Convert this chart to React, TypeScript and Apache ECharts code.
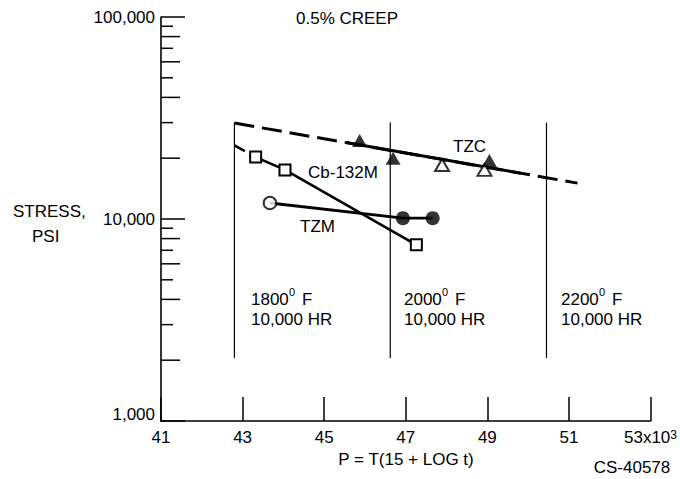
import React, { useEffect, useRef } from "react";
import * as echarts from "echarts";

// ---- data ----
const xTicks = [41, 43, 45, 47, 49, 51, 53];
const yMajorLabels: Record<number, string> = { 1000: "1,000", 10000: "10,000", 100000: "100,000" };
const minorTickMantissas = [2, 3, 4, 5, 6, 7, 8, 9];
const minorTickDecades = [1000, 10000];

const tzcFilled: [number, number][] = [[45.87, 24500], [46.69, 20000], [49.05, 19500]];
const tzcOpen: [number, number][] = [[47.89, 18500], [48.93, 17500]];
const tzcTrend: [number, number][] = [[42.8, 29850], [51.21, 15050]];
const tzcTrendSolid: [number, number][] = [[45.54, 23900], [49.82, 16850]];

const cbSquares: [number, number][] = [[43.32, 20250], [44.04, 17500], [47.26, 7450]];
const cbExtension: [number, number][] = [[42.8, 23150], [43.32, 20250]];

const tzmOpen: [number, number][] = [[43.67, 12000]];
const tzmFilled: [number, number][] = [[46.93, 10100], [47.66, 10100]];

const tempLineP = [42.8, 46.62, 50.45];
const tempLineSpan = [2050, 30000];
const tempLabels = [
  { t: "1800", unit: "F", hr: "10,000 HR" },
  { t: "2000", unit: "F", hr: "10,000 HR" },
  { t: "2200", unit: "F", hr: "10,000 HR" },
];

const FONT = "'Liberation Sans', Arial, sans-serif";
const FS = 17;

export default function App() {
  const ref = useRef<HTMLDivElement>(null);

  useEffect(() => {
    const chart = echarts.init(ref.current!, null, { renderer: "svg" });

    const minorTicks: number[] = [];
    minorTickDecades.forEach((d) => minorTickMantissas.forEach((m) => minorTicks.push(d * m)));

    const black = "#000";
    const txt = (text: string, x: number, y: number, extra: any = {}) => ({
      type: "text",
      x,
      y,
      silent: true,
      style: {
        text,
        fill: black,
        fontSize: FS,
        fontFamily: FONT,
        textAlign: "left",
        textVerticalAlign: "middle",
        ...extra,
      },
    });

    const tempLabelX = [251, 404, 561];
    const graphics: any[] = [
      txt("0.5% CREEP", 296, 18),
      txt("STRESS,", 13, 211),
      txt("PSI", 32, 236),
      txt("Cb-132M", 308, 172),
      txt("TZM", 300, 226),
      txt("TZC", 453, 146),
      txt("P = T(15 + LOG t)", 406, 459, { textAlign: "center" }),
      txt("CS-40578", 632, 467, { textAlign: "center" }),
    ];
    tempLabels.forEach((lab, i) => {
      const x0 = tempLabelX[i];
      graphics.push(txt(lab.t, x0, 299));
      graphics.push(txt("0", x0 + 38, 292, { fontSize: 11 }));
      graphics.push(txt(lab.unit, x0 + 51, 299));
      graphics.push(txt(lab.hr, x0, 319.5));
    });

    const series: any[] = [];

    // temperature / time reference lines
    tempLineP.forEach((p) => {
      series.push({
        type: "line",
        data: [[p, tempLineSpan[0]], [p, tempLineSpan[1]]],
        symbol: "none",
        lineStyle: { color: black, width: 1.2 },
        silent: true,
        z: 1,
      });
    });

    // minor log ticks on the stress axis
    series.push({
      type: "custom",
      data: minorTicks.map((v) => [41, v]),
      encode: { x: 0, y: 1 },
      clip: false,
      silent: true,
      renderItem: (params: any, api: any) => {
        const v = api.value(1);
        const p = api.coord([41, v]);
        const m = Math.round(v / Math.pow(10, Math.floor(Math.log10(v) + 1e-9)));
        const len = m % 2 === 0 ? 19 : 12;
        return {
          type: "line",
          shape: { x1: p[0], y1: p[1], x2: p[0] + len, y2: p[1] },
          style: { stroke: black, lineWidth: 1.5 },
        };
      },
    });

    // TZC trend line (dashed, solid in the data range)
    series.push({
      type: "line",
      data: tzcTrend,
      symbol: "none",
      lineStyle: { color: black, width: 3, type: [20, 8] },
      z: 2,
    });
    series.push({
      type: "line",
      data: tzcTrendSolid,
      symbol: "none",
      lineStyle: { color: black, width: 3 },
      z: 2,
    });

    // Cb-132M
    series.push({
      type: "line",
      data: cbExtension,
      symbol: "none",
      lineStyle: { color: black, width: 2.6, type: [12, 6] },
      z: 2,
    });
    series.push({
      type: "line",
      name: "Cb-132M",
      data: cbSquares,
      symbol: "rect",
      symbolSize: 11,
      showAllSymbol: true,
      lineStyle: { color: black, width: 2.6 },
      itemStyle: { color: "#fff", borderColor: black, borderWidth: 2 },
      z: 3,
    });

    // TZM
    series.push({
      type: "line",
      data: tzmOpen.concat(tzmFilled),
      symbol: "none",
      lineStyle: { color: black, width: 2.8 },
      z: 2,
    });
    series.push({
      type: "scatter",
      name: "TZM open",
      data: tzmOpen,
      symbol: "circle",
      symbolSize: 12.5,
      itemStyle: { color: "#fff", borderColor: black, borderWidth: 2 },
      z: 4,
    });
    series.push({
      type: "scatter",
      name: "TZM filled",
      data: tzmFilled,
      symbol: "circle",
      symbolSize: 14,
      itemStyle: { color: black },
      z: 4,
    });

    // TZC markers
    series.push({
      type: "scatter",
      name: "TZC open",
      data: tzcOpen,
      symbol: "triangle",
      symbolSize: [14, 12],
      itemStyle: { color: "#fff", borderColor: black, borderWidth: 2 },
      z: 4,
    });
    series.push({
      type: "scatter",
      name: "TZC filled",
      data: tzcFilled,
      symbol: "triangle",
      symbolSize: [15, 13],
      itemStyle: { color: black },
      z: 5,
    });

    chart.setOption({
      animation: false,
      backgroundColor: "#fff",
      textStyle: { fontFamily: FONT, color: black },
      grid: { left: 161, right: 27, top: 17, bottom: 58, containLabel: false },
      xAxis: {
        type: "value",
        min: xTicks[0],
        max: xTicks[xTicks.length - 1],
        interval: 2,
        splitLine: { show: false },
        axisLine: { show: true, onZero: false, lineStyle: { color: black, width: 1.6 } },
        axisTick: { show: true, inside: true, length: 24, lineStyle: { color: black, width: 1.5 } },
        axisLabel: {
          color: black,
          fontSize: FS,
          fontFamily: FONT,
          margin: 8,
          formatter: (v: number) => (v === 53 ? "{base|53x10}{sup|3}" : String(v)),
          rich: {
            base: { fontSize: FS, fontFamily: FONT, color: black, verticalAlign: "top" },
            sup: { fontSize: 12, fontFamily: FONT, color: black, verticalAlign: "top" },
          },
        },
      },
      yAxis: {
        type: "log",
        logBase: 10,
        min: 1000,
        max: 100000,
        splitLine: { show: false },
        axisLine: { show: true, onZero: false, lineStyle: { color: black, width: 1.6 } },
        axisTick: { show: true, inside: true, length: 24, lineStyle: { color: black, width: 1.5 } },
        axisLabel: {
          color: black,
          fontSize: FS,
          fontFamily: FONT,
          margin: 6,
          formatter: (v: number) => {
            const key = Math.round(v);
            const s = yMajorLabels[key] ?? "";
            return key === 1000 ? "{low|" + s + "}" : s;
          },
          rich: {
            low: { fontSize: FS, fontFamily: FONT, color: black, padding: [0, 0, 14, 0] },
          },
        },
      },
      graphic: graphics,
      series,
    });

    return () => chart.dispose();
  }, []);

  return (
    <div
      ref={ref}
      style={{ position: "fixed", left: 0, top: 0, width: 680, height: 479, background: "#fff" }}
    />
  );
}
